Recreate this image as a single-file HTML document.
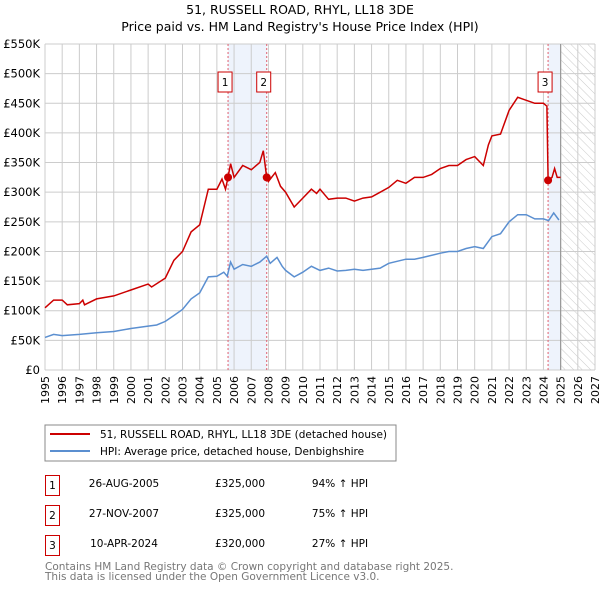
<!DOCTYPE html>
<html><head><meta charset="utf-8"><style>
body{margin:0;width:600px;height:590px;background:#fff;font-family:"Liberation Sans","DejaVu Sans",sans-serif;overflow:hidden}
svg text{font-family:"DejaVu Sans","Liberation Sans",sans-serif}
</style></head><body>
<svg id="chart" width="600" height="590" xmlns="http://www.w3.org/2000/svg">
<defs><pattern id="hatch" width="6" height="6" patternUnits="userSpaceOnUse" patternTransform="rotate(-45)"><line x1="0" y1="0" x2="0" y2="6" stroke="#ccc" stroke-width="1"/></pattern></defs>
<text x="300" y="14" text-anchor="middle" font-size="12.5">51, RUSSELL ROAD, RHYL, LL18 3DE</text>
<text x="300" y="31" text-anchor="middle" font-size="12.5">Price paid vs. HM Land Registry's House Price Index (HPI)</text>
<g id="plot"></g>
<rect x="45" y="425" width="351" height="36" fill="#fff" stroke="#888"/>
<line x1="50" y1="434" x2="90" y2="434" stroke="#cc0000" stroke-width="2"/>
<text x="100" y="438" font-size="10.5">51, RUSSELL ROAD, RHYL, LL18 3DE (detached house)</text>
<line x1="50" y1="451" x2="90" y2="451" stroke="#5b8fd0" stroke-width="2"/>
<text x="100" y="455" font-size="10.5">HPI: Average price, detached house, Denbighshire</text>
<g font-size="10.5">
<rect x="45.5" y="475.5" width="14" height="20" fill="none" stroke="#cc0000"/><text x="52.5" y="489" text-anchor="middle">1</text>
<text x="124" y="487" text-anchor="middle">26-AUG-2005</text><text x="240" y="487" text-anchor="middle">£325,000</text><text x="340" y="487" text-anchor="middle">94% ↑ HPI</text>
<rect x="45.5" y="505.5" width="14" height="20" fill="none" stroke="#cc0000"/><text x="52.5" y="519" text-anchor="middle">2</text>
<text x="124" y="517" text-anchor="middle">27-NOV-2007</text><text x="240" y="517" text-anchor="middle">£325,000</text><text x="340" y="517" text-anchor="middle">75% ↑ HPI</text>
<rect x="45.5" y="535.5" width="14" height="20" fill="none" stroke="#cc0000"/><text x="52.5" y="549" text-anchor="middle">3</text>
<text x="124" y="547" text-anchor="middle">10-APR-2024</text><text x="240" y="547" text-anchor="middle">£320,000</text><text x="340" y="547" text-anchor="middle">27% ↑ HPI</text>
</g>
<text x="45" y="570" font-size="10.5" fill="#777">Contains HM Land Registry data © Crown copyright and database right 2025.</text>
<text x="45" y="580" font-size="10.5" fill="#777">This data is licensed under the Open Government Licence v3.0.</text>
</svg>
<script>
const hpiYears=[1995,1995.5,1996,1997,1998,1999,2000,2001,2001.5,2002,2002.5,2003,2003.5,2004,2004.5,2005,2005.4,2005.6,2005.8,2006,2006.5,2007,2007.5,2007.9,2008.1,2008.5,2008.8,2009,2009.5,2010,2010.5,2011,2011.5,2012,2012.5,2013,2013.5,2014,2014.5,2015,2016,2016.5,2017,2018,2018.5,2019,2019.5,2020,2020.5,2021,2021.5,2022,2022.5,2023,2023.5,2024,2024.3,2024.6,2024.9];
const hpiValues=[55,60,58,60,63,65,70,74,76,82,92,102,120,130,157,158,165,158,182,170,178,175,182,192,180,190,175,168,157,165,175,168,172,167,168,170,168,170,172,180,187,187,190,197,200,200,205,208,205,225,230,250,262,262,255,255,252,265,253];
const priceYears=[1995,1995.5,1996,1996.3,1997,1997.2,1997.3,1998,1999,2000,2001,2001.2,2002,2002.5,2003,2003.5,2004,2004.5,2005,2005.3,2005.5,2005.65,2005.8,2006,2006.5,2007,2007.5,2007.7,2007.9,2008,2008.4,2008.7,2009,2009.5,2010,2010.5,2010.8,2011,2011.5,2012,2012.5,2013,2013.5,2014,2014.5,2015,2015.5,2016,2016.5,2017,2017.5,2018,2018.5,2019,2019.5,2020,2020.5,2020.8,2021,2021.5,2022,2022.5,2023,2023.5,2024,2024.2,2024.27,2024.5,2024.65,2024.8,2025];
const priceValues=[105,118,118,110,112,118,110,120,125,135,145,140,155,185,200,233,245,305,305,322,305,325,348,325,345,338,350,370,325,318,333,310,300,275,290,305,298,305,288,290,290,285,290,292,300,308,320,315,325,325,330,340,345,345,355,360,345,380,395,398,438,460,455,450,450,445,320,325,340,325,325];
const saleYears=[2005.65,2007.9,2024.27];
const saleValues=[325,325,320];
const saleLabels=["1","2","3"];
const yTicks=[0,50,100,150,200,250,300,350,400,450,500,550];
const yTickLabels=["£0","£50K","£100K","£150K","£200K","£250K","£300K","£350K","£400K","£450K","£500K","£550K"];
const xTicks=[1995,1996,1997,1998,1999,2000,2001,2002,2003,2004,2005,2006,2007,2008,2009,2010,2011,2012,2013,2014,2015,2016,2017,2018,2019,2020,2021,2022,2023,2024,2025,2026,2027];

const X0=45,X1=595,Y0=370,Y1=44;
const sx=y=>X0+(y-1995)/(2027-1995)*(X1-X0);
const sy=v=>Y0-v/550*(Y0-Y1);
const NS="http://www.w3.org/2000/svg";
const g=document.getElementById('plot');
function mk(t,a){const e=document.createElementNS(NS,t);for(const k in a)e.setAttribute(k,a[k]);g.appendChild(e);return e;}
let r=mk('rect',{x:sx(saleYears[0]),y:Y1,width:sx(saleYears[1])-sx(saleYears[0]),height:Y0-Y1,fill:'#eef3fc'});


r=mk('rect',{x:sx(saleYears[2]),y:Y1,width:sx(2025)-sx(saleYears[2]),height:Y0-Y1,fill:'#eef3fc'});


r=mk('rect',{x:sx(2025),y:Y1,width:sx(2027)-sx(2025),height:Y0-Y1,fill:'url(#hatch)'});


xTicks.forEach(t=>{const l=mk('line',{x1:sx(t),x2:sx(t),y1:Y1,y2:Y0,stroke:'#ccc','stroke-width':1});


const tx=mk('text',{x:0,y:0,'font-size':11,'text-anchor':'end',transform:`translate(${sx(t)+4},${Y0+6}) rotate(-90)`});tx.textContent=t;

});
yTicks.forEach((t,i)=>{const l=mk('line',{x1:X0,x2:X1,y1:sy(t),y2:sy(t),stroke:'#ccc','stroke-width':1});


const tx=mk('text',{x:X0-5,y:sy(t)+4,'font-size':11.5,'text-anchor':'end'});tx.textContent=yTickLabels[i];

});
let a=mk('line',{x1:sx(2025),x2:sx(2025),y1:Y1,y2:Y0,stroke:'#999','stroke-width':1.2});


saleYears.forEach((s,i)=>{const l=mk('line',{x1:sx(s),x2:sx(s),y1:Y1,y2:Y0,stroke:'#e06070','stroke-width':1,'stroke-dasharray':'2,2'});


const b=mk('rect',{x:sx(s)-10,y:72,width:14,height:20,fill:'#fff',stroke:'#cc0000'});


const t=mk('text',{x:sx(s)-3,y:86,'font-size':10.5,'text-anchor':'middle'});t.textContent=saleLabels[i];

});
const path=(xs,vs)=>xs.map((x,i)=>(i?'L':'M')+sx(x).toFixed(1)+','+sy(vs[i]).toFixed(1)).join('');
let p=mk('path',{d:path(hpiYears,hpiValues),fill:'none',stroke:'#5b8fd0','stroke-width':1.5});


p=mk('path',{d:path(priceYears,priceValues),fill:'none',stroke:'#cc0000','stroke-width':1.5});


saleYears.forEach((s,i)=>{const c=mk('circle',{cx:sx(s),cy:sy(saleValues[i]),r:4,fill:'#cc0000'});

});
</script>
</body></html>
